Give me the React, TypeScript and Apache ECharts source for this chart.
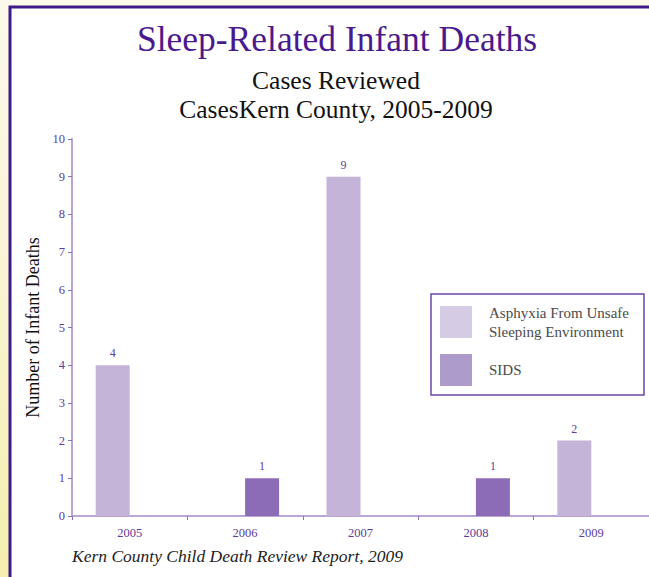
import React, { useEffect, useRef } from "react";
import * as echarts from "echarts";

const categories = ["2005", "2006", "2007", "2008", "2009"];
const asphyxia: (number | null)[] = [4, null, 9, null, 2];
const sids: (number | null)[] = [null, 1, null, 1, null];
const asphyxiaName = "Asphyxia From Unsafe Sleeping Environment";
const sidsName = "SIDS";
const titleText = "Sleep-Related Infant Deaths";
const subLine1 = "Cases Reviewed";
const subLine2 = "CasesKern County, 2005-2009";
const footer = "Kern County Child Death Review Report, 2009";

const SERIF = "'Liberation Serif', 'DejaVu Serif', serif";
const PURPLE_TXT = "#5b3b9b";

export default function App() {
  const ref = useRef<HTMLDivElement>(null);
  useEffect(() => {
    if (!ref.current) return;
    const chart = echarts.init(ref.current, undefined, { renderer: "svg" });
    chart.setOption({
      animation: false,
      backgroundColor: "#ffffff",
      textStyle: { fontFamily: SERIF },
      graphic: [
        {
          type: "rect",
          z: -10,
          silent: true,
          shape: { x: 0, y: 0, width: 649, height: 7 },
          style: { fill: "#fcf9ea" },
        },
        {
          type: "rect",
          z: -10,
          silent: true,
          shape: { x: 0, y: 0, width: 9, height: 577 },
          style: {
            fill: new echarts.graphic.LinearGradient(0, 0, 0, 1, [
              { offset: 0, color: "#fcf9ea" },
              { offset: 0.4, color: "#faf5d8" },
              { offset: 1, color: "#f5eeae" },
            ]),
          },
        },
        {
          type: "polyline",
          silent: true,
          shape: { points: [[10, 577], [10, 7], [649, 7]] },
          style: { stroke: "#3d1a8a", lineWidth: 3, fill: null },
        },
        {
          type: "text",
          x: 337,
          y: 21,
          style: {
            text: titleText,
            font: `35.5px ${SERIF}`,
            fill: "#4a1a8c",
            textAlign: "center",
            textVerticalAlign: "top",
          },
        },
        {
          type: "text",
          x: 336,
          y: 67,
          style: {
            text: subLine1,
            font: `25.5px ${SERIF}`,
            fill: "#111111",
            textAlign: "center",
            textVerticalAlign: "top",
          },
        },
        {
          type: "text",
          x: 336,
          y: 96,
          style: {
            text: subLine2,
            font: `25.5px ${SERIF}`,
            fill: "#111111",
            textAlign: "center",
            textVerticalAlign: "top",
          },
        },
        {
          type: "text",
          x: 72,
          y: 547,
          style: {
            text: footer,
            font: `italic 17.5px ${SERIF}`,
            fill: "#222222",
            textAlign: "left",
            textVerticalAlign: "top",
          },
        },
      ],
      legend: {
        orient: "vertical",
        left: 431,
        top: 294,
        padding: [9, 15, 9, 9],
        itemWidth: 32,
        itemHeight: 32,
        itemGap: 13,
        borderColor: "#6b45a5",
        borderWidth: 1.5,
        backgroundColor: "#ffffff",
        icon: "rect",
        formatter: (n: string) =>
          n === asphyxiaName ? "Asphyxia From Unsafe\nSleeping Environment" : n,
        textStyle: {
          fontFamily: SERIF,
          fontSize: 15,
          color: "#4a4a4a",
          lineHeight: 19,
          padding: [0, 0, 0, 12],
        },
        data: [
          { name: asphyxiaName, itemStyle: { color: "#d5cbe5" } },
          { name: sidsName, itemStyle: { color: "#ad9bcc" } },
        ],
      },
      grid: { left: 72, top: 139, width: 583, height: 377 },
      xAxis: {
        type: "category",
        data: categories,
        axisLine: { lineStyle: { color: "#b9a6d4", width: 2 } },
        axisTick: { show: true, length: 4, lineStyle: { color: "#8a70b5" } },
        axisLabel: { color: PURPLE_TXT, fontSize: 12.5, fontFamily: SERIF, margin: 10 },
      },
      yAxis: {
        type: "value",
        min: 0,
        max: 10,
        interval: 1,
        name: "Number of Infant Deaths",
        nameLocation: "middle",
        nameRotate: 90,
        nameGap: 30,
        nameTextStyle: { color: "#111111", fontSize: 18, fontFamily: SERIF },
        axisLine: { show: true, lineStyle: { color: "#b9a6d4", width: 2 } },
        axisTick: { show: true, length: 4, lineStyle: { color: "#8a70b5" } },
        splitLine: { show: false },
        axisLabel: { color: PURPLE_TXT, fontSize: 12.5, fontFamily: SERIF, margin: 7 },
      },
      series: [
        {
          name: asphyxiaName,
          type: "bar",
          data: asphyxia,
          barWidth: 34,
          barGap: "0%",
          itemStyle: { color: "#c4b4d8" },
          label: { show: true, position: "top", color: PURPLE_TXT, fontSize: 12, fontFamily: SERIF, distance: 6 },
        },
        {
          name: sidsName,
          type: "bar",
          data: sids,
          barWidth: 34,
          itemStyle: { color: "#8c6cb6" },
          label: { show: true, position: "top", color: PURPLE_TXT, fontSize: 12, fontFamily: SERIF, distance: 6 },
        },
      ],
    });
    return () => chart.dispose();
  }, []);
  return (
    <div
      ref={ref}
      style={{ position: "fixed", left: 0, top: 0, width: 649, height: 577 }}
    />
  );
}
